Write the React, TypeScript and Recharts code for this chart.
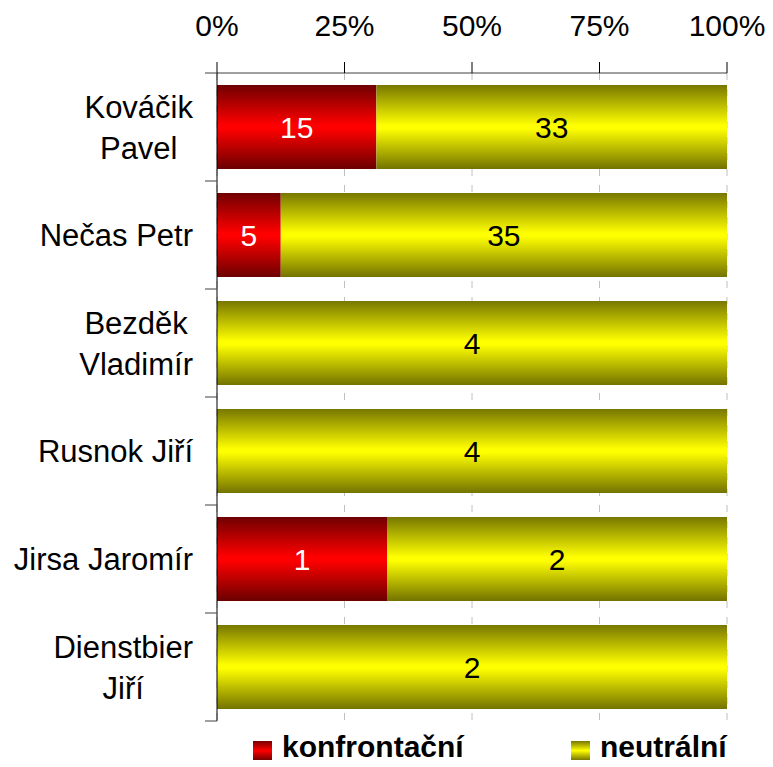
import {
  Bar,
  BarChart,
  CartesianGrid,
  LabelList,
  Legend,
  XAxis,
  YAxis,
} from "recharts";

const names = [
  "Kováčik Pavel",
  "Nečas Petr",
  "Bezděk Vladimír",
  "Rusnok Jiří",
  "Jirsa Jaromír",
  "Dienstbier Jiří",
];
const nameLines: Record<string, string[]> = {
  "Kováčik Pavel": ["Kováčik", "Pavel"],
  "Nečas Petr": ["Nečas Petr"],
  "Bezděk Vladimír": ["Bezděk", "Vladimír"],
  "Rusnok Jiří": ["Rusnok Jiří"],
  "Jirsa Jaromír": ["Jirsa Jaromír"],
  "Dienstbier Jiří": ["Dienstbier", "Jiří"],
};
const konfrontacni = [15, 5, 0, 0, 1, 0];
const neutralni = [33, 35, 4, 4, 2, 2];
const percentTicks = [0, 0.25, 0.5, 0.75, 1];

const data = names.map((name, i) => ({
  name,
  konfrontacni: konfrontacni[i],
  neutralni: neutralni[i],
}));

const FONT = "'Liberation Sans', Arial, sans-serif";
const LABEL_SIZE = 31;
const LINE_GAP = 41;
const TICK_LEN = 12;

let ctx: CanvasRenderingContext2D | null = null;
const textWidth = (s: string) => {
  if (!ctx) {
    ctx = document.createElement("canvas").getContext("2d");
  }
  if (!ctx) return s.length * 15;
  ctx.font = `${LABEL_SIZE}px ${FONT}`;
  return ctx.measureText(s).width;
};

// names sit in a block right-aligned against the axis, each line centred in it;
// tick marks go between categories, like in Excel
const NameTick = (props: any) => {
  const { x, y, payload, index, visibleTicksCount } = props;
  const half = payload.offset || 54;
  const lines = nameLines[payload.value] || [payload.value];
  const blockW = Math.max(...lines.map(textWidth));
  const cx = x - TICK_LEN - 12 - blockW / 2;
  const first = y + 11 - ((lines.length - 1) * LINE_GAP) / 2;
  const isLast = index === visibleTicksCount - 1;
  return (
    <g>
      <line
        x1={x - TICK_LEN}
        x2={x}
        y1={y - half}
        y2={y - half}
        stroke="#404040"
      />
      {isLast && (
        <line
          x1={x - TICK_LEN}
          x2={x}
          y1={y + half}
          y2={y + half}
          stroke="#404040"
        />
      )}
      <text
        textAnchor="middle"
        fontSize={LABEL_SIZE}
        fontFamily={FONT}
        fill="#000"
      >
        {lines.map((l: string, i: number) => (
          <tspan key={i} x={cx} y={first + i * LINE_GAP}>
            {l}
          </tspan>
        ))}
      </text>
    </g>
  );
};

const PercentTick = (props: any) => {
  const { x, y, payload } = props;
  return (
    <text
      x={x}
      y={y}
      textAnchor="middle"
      fontSize={30}
      fontFamily={FONT}
      fill="#000"
    >
      {`${Math.round(payload.value * 100)}%`}
    </text>
  );
};

const legendItems = [
  { label: "konfrontační", bg: "linear-gradient(#770000, #ff0000, #770000)" },
  { label: "neutrální", bg: "linear-gradient(#777700, #ffff00, #777700)" },
];

const renderLegend = () => (
  <div
    style={{
      display: "flex",
      width: 773,
      height: 46,
      paddingLeft: 253,
      boxSizing: "border-box",
      alignItems: "flex-end",
      fontFamily: FONT,
    }}
  >
    {legendItems.map((item, i) => (
      <div
        key={item.label}
        style={{
          display: "flex",
          alignItems: "center",
          width: i === 0 ? 318 : "auto",
          height: 40,
        }}
      >
        <span
          style={{
            display: "inline-block",
            width: 19,
            height: 19,
            background: item.bg,
            marginRight: 10,
            marginTop: 6,
          }}
        />
        <span style={{ fontSize: 30, fontWeight: "bold", color: "#000" }}>
          {item.label}
        </span>
      </div>
    ))}
  </div>
);

const hideZero = (v: any) => (v ? v : "");

export default function App() {
  return (
    <div style={{ position: "absolute", left: 0, top: 0 }}>
      <BarChart
        width={773}
        height={767}
        data={data}
        layout="vertical"
        stackOffset="expand"
        barCategoryGap="11%"
        margin={{ top: 0, right: 46, left: 0, bottom: 0 }}
        style={{ fontFamily: FONT }}
      >
        <defs>
          <linearGradient id="gradRed" x1="0" y1="0" x2="0" y2="1">
            <stop offset="0%" stopColor="#700000" />
            <stop offset="48%" stopColor="#ff0000" />
            <stop offset="52%" stopColor="#ff0000" />
            <stop offset="100%" stopColor="#6c0000" />
          </linearGradient>
          <linearGradient id="gradYellow" x1="0" y1="0" x2="0" y2="1">
            <stop offset="0%" stopColor="#777700" />
            <stop offset="48%" stopColor="#ffff00" />
            <stop offset="52%" stopColor="#ffff00" />
            <stop offset="100%" stopColor="#737300" />
          </linearGradient>
        </defs>
        <CartesianGrid
          horizontal={false}
          stroke="#c0c0c0"
          strokeDasharray="7 9"
        />
        <XAxis
          type="number"
          orientation="top"
          domain={[0, 1]}
          ticks={percentTicks}
          height={73}
          tickSize={11}
          tickMargin={26}
          axisLine={{ stroke: "#404040" }}
          tickLine={{ stroke: "#000" }}
          tick={<PercentTick />}
        />
        <YAxis
          type="category"
          dataKey="name"
          width={217}
          interval={0}
          axisLine={{ stroke: "#000" }}
          tickLine={false}
          tickSize={0}
          tickMargin={0}
          tick={<NameTick />}
        />
        <Legend
          verticalAlign="bottom"
          content={renderLegend}
          wrapperStyle={{ left: 0, bottom: 0, width: 773, height: 46 }}
        />
        <Bar
          dataKey="konfrontacni"
          stackId="a"
          fill="url(#gradRed)"
          isAnimationActive={false}
        >
          <LabelList
            dataKey="konfrontacni"
            position="center"
            fill="#fff"
            fontSize={30}
            fontFamily={FONT}
            formatter={hideZero}
          />
        </Bar>
        <Bar
          dataKey="neutralni"
          stackId="a"
          fill="url(#gradYellow)"
          isAnimationActive={false}
        >
          <LabelList
            dataKey="neutralni"
            position="center"
            fill="#000"
            fontSize={30}
            fontFamily={FONT}
            formatter={hideZero}
          />
        </Bar>
      </BarChart>
    </div>
  );
}
